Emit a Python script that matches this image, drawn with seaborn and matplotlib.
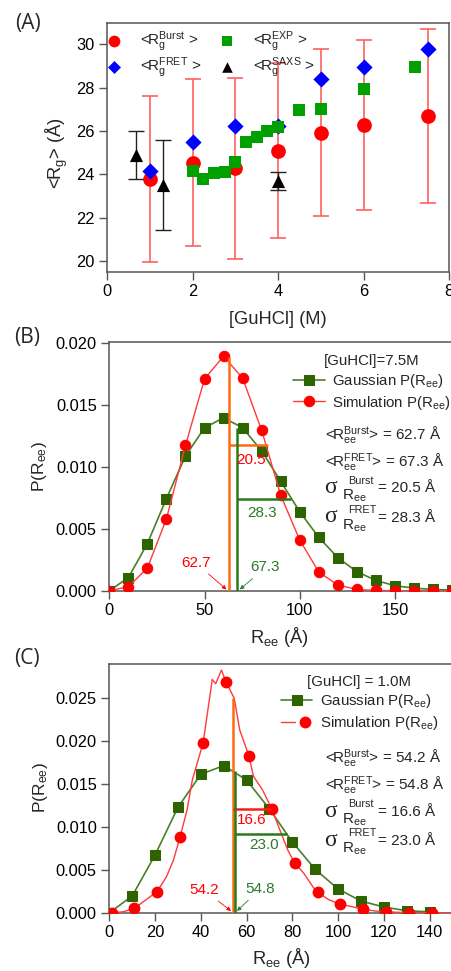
import numpy as np
import pandas as pd
import matplotlib
matplotlib.use("Agg")
import matplotlib.pyplot as plt
import seaborn as sns
from matplotlib.legend_handler import HandlerTuple

# ---------------- Panel A data ----------------
gdn_burst = [1, 2, 3, 4, 5, 6, 7.5]
rg_burst = [23.78, 24.54, 24.28, 25.09, 25.92, 26.28, 26.69]
rg_burst_err = [3.85, 3.87, 4.18, 4.05, 3.87, 3.93, 4.04]
gdn_fret = [1, 2, 3, 4, 5, 6, 7.5]
rg_fret = [24.15, 25.51, 26.23, 26.22, 28.40, 28.94, 29.80]
gdn_exp = [2.0, 2.25, 2.5, 2.75, 3.0, 3.25, 3.5, 3.75, 4.0, 4.5, 5.0, 6.0, 7.2]
rg_exp = [24.15, 23.78, 24.05, 24.12, 24.55, 25.50, 25.74, 26.02, 26.20, 26.97, 27.00, 27.92, 28.95]
gdn_saxs = [0.67, 1.31, 4.0]
rg_saxs = [24.90, 23.50, 23.69]
rg_saxs_err = [1.12, 2.09, 0.40]

# ---------------- Panel B data (7.5 M) ----------------
ree_b_gauss = [0, 10, 20, 30, 40, 50, 60, 70, 80, 90, 100, 110, 120, 130, 140, 150, 160, 170, 180]
p_b_gauss = [0.0, 0.00105, 0.00381, 0.00744, 0.01087, 0.01315, 0.01396, 0.01315, 0.01128,
             0.00883, 0.00636, 0.00430, 0.00266, 0.00153, 0.00083, 0.00040, 0.00021, 0.00010, 0.00005]
ree_b_sim = [0, 10, 20, 30, 40, 50, 60, 70, 80, 90, 100, 110, 120, 130, 140, 150, 160, 170, 180]
p_b_sim = [0.0, 0.00032, 0.00183, 0.00580, 0.01173, 0.01710, 0.01893, 0.01715, 0.01294,
           0.00770, 0.00408, 0.00150, 0.00046, 0.00010, 0.00002, 0.0, 0.0, 0.0, 0.0]
b_mean_burst, b_mean_fret = 62.7, 67.3
b_sd_burst, b_sd_fret = 20.5, 28.3
b_vline_top = [0.0189, 0.0131]
b_hline_y = [0.01173, 0.00744]

# ---------------- Panel C data (1.0 M) ----------------
ree_c_gauss = [0, 10, 20, 30, 40, 50, 60, 70, 80, 90, 100, 110, 120, 130, 140]
p_c_gauss = [0.0, 0.00194, 0.00673, 0.01229, 0.01614, 0.01715, 0.01547, 0.01209, 0.00824,
             0.00505, 0.00276, 0.00136, 0.00066, 0.00023, 0.00010]
ree_c_sim = [1, 11, 21, 31, 41, 51, 61, 71, 81, 91, 101, 111, 121, 131, 141]
p_c_sim = [0.0, 0.00050, 0.00245, 0.00886, 0.01975, 0.02694, 0.01831, 0.01205, 0.00583,
           0.00237, 0.00097, 0.00039, 0.00010, 0.0, 0.0]
ree_c_sim_line = [1, 6, 11, 16, 21, 25, 28, 31, 34, 36.3, 41, 45, 46.5, 49, 51, 54.6, 57, 61,
                  63, 67, 71, 74.6, 78, 81, 85, 89, 91, 96, 101, 106, 111, 116, 121, 131, 141, 155]
p_c_sim_line = [0.0, 0.0001, 0.0005, 0.0015, 0.0025, 0.0042, 0.0061, 0.0089, 0.0120, 0.0155,
                0.0198, 0.0272, 0.0267, 0.0283, 0.0269, 0.0250, 0.0213, 0.0183, 0.0159, 0.0143,
                0.0121, 0.0096, 0.0073, 0.0058, 0.0046, 0.0030, 0.0024, 0.0015, 0.0010, 0.0007,
                0.0004, 0.0002, 0.0001, 0.0, 0.0, 0.0]
c_mean_burst, c_mean_fret = 54.2, 54.8
c_sd_burst, c_sd_fret = 16.6, 23.0
c_vline_top = [0.0250, 0.0165]
c_hline_y = [0.01209, 0.00921]

# ---------------- style ----------------
sns.set_theme(style="ticks")
plt.rcParams["font.family"] = ["Liberation Sans", "DejaVu Sans"]
plt.rcParams["mathtext.fontset"] = "custom"
plt.rcParams["mathtext.rm"] = "Liberation Sans"
plt.rcParams["mathtext.it"] = "Liberation Sans:italic"
plt.rcParams["mathtext.sf"] = "Liberation Serif"
plt.rcParams["mathtext.default"] = "regular"
plt.rcParams["axes.edgecolor"] = "#555555"
plt.rcParams["axes.linewidth"] = 1.1
plt.rcParams["xtick.color"] = "#555555"
plt.rcParams["ytick.color"] = "#555555"
plt.rcParams["xtick.labelcolor"] = "black"
plt.rcParams["ytick.labelcolor"] = "black"

W, H = 451, 971
fig = plt.figure(figsize=(W / 100, H / 100), dpi=100)


def axes_px(left, top, right, bottom):
    return fig.add_axes([left / W, 1 - bottom / H, (right - left) / W, (bottom - top) / H])


def ftext(x, y, s, **kw):
    return fig.text(x / W, 1 - y / H, s, **kw)


TICK = 11.8
RED = "#ff0000"
REDLINE = "#ff3a3a"
DKGREEN = "#2e6400"
GLINE = "#4a7f2a"
ORANGE = "#ff6a13"
TXTGREEN = "#2a7a2a"
INFO_FS = 11.0

# ================= Panel A =================
axA = axes_px(107, 22.7, 449, 271.7)
axA.errorbar(gdn_burst, rg_burst, yerr=rg_burst_err, fmt="none", ecolor="#ff6060",
             elinewidth=1.2, capsize=5.5, capthick=1.2, zorder=1)
axA.errorbar(gdn_saxs, rg_saxs, yerr=rg_saxs_err, fmt="none", ecolor="#222222",
             elinewidth=1.0, capsize=5.5, capthick=1.0, zorder=1)
sns.scatterplot(x=gdn_burst, y=rg_burst, ax=axA, marker="o", s=112, color=RED,
                linewidth=0, zorder=3, label="burst")
sns.scatterplot(x=gdn_fret, y=rg_fret, ax=axA, marker="D", s=68, color="#0000ff",
                linewidth=0, zorder=4, label="fret")
sns.scatterplot(x=gdn_exp, y=rg_exp, ax=axA, marker="s", s=84, color="#00a000",
                linewidth=0, zorder=5, label="exp")
sns.scatterplot(x=gdn_saxs, y=rg_saxs, ax=axA, marker="^", s=90, color="black",
                linewidth=0, zorder=6, label="saxs")
axA.set_xlim(0, 8)
axA.set_ylim(19.5, 31)
axA.set_xticks([0, 2, 4, 6, 8])
axA.set_yticks([20, 22, 24, 26, 28, 30])
axA.tick_params(direction="out", length=6, width=1, labelsize=TICK, pad=3)
axA.set_xlabel("[GuHCl] (M)", fontsize=13.2)
axA.set_ylabel("<R$_g$> (Å)", fontsize=13.2)
axA.xaxis.set_label_coords(0.5, -0.19)
axA.xaxis.label.set_va("center")
axA.yaxis.set_label_coords(-0.146, 0.477)
axA.yaxis.label.set_va("center")
hA, _ = axA.get_legend_handles_labels()
labA = [r"<R$_g^{Burst}$ >", r"<R$_g^{FRET}$ >", r"<R$_g^{EXP}$ >", r"<R$_g^{SAXS}$ >"]
legA = axA.legend(hA, labA, ncol=2, loc="upper left", bbox_to_anchor=(-0.014, 0.992),
                  frameon=False, fontsize=11, markerscale=0.8, handlelength=1.0,
                  handletextpad=1.2, columnspacing=1.12, labelspacing=0.1, borderpad=0.3,
                  borderaxespad=0)
for sp in axA.spines.values():
    sp.set_visible(True)

# ================= Panel B =================
axB = axes_px(109.3, 341.7, 461.7, 590.7)
sns.lineplot(x=ree_b_gauss, y=p_b_gauss, ax=axB, color=GLINE, lw=1.2, marker="s",
             markersize=7, markerfacecolor=DKGREEN, markeredgecolor=DKGREEN, zorder=3,
             label="Gaussian P(R$_{ee}$)")
sns.lineplot(x=ree_b_sim, y=p_b_sim, ax=axB, color=REDLINE, lw=1.0, marker="o",
             markersize=7.5, markerfacecolor=RED, markeredgecolor=RED, zorder=4,
             label="Simulation P(R$_{ee}$)")
axB.vlines(b_mean_burst, 0, b_vline_top[0], color=ORANGE, lw=1.8, zorder=5)
axB.hlines(b_hline_y[0], b_mean_burst, b_mean_burst + b_sd_burst, color=ORANGE, lw=1.8, zorder=5)
axB.vlines(b_mean_fret, 0, b_vline_top[1], color="#2a7a1a", lw=1.8, zorder=5)
axB.hlines(b_hline_y[1], b_mean_fret, b_mean_fret + b_sd_fret, color="#2a7a1a", lw=1.8, zorder=5)
axB.text(74.6, 0.01052, f"{b_sd_burst:.1f}", color=RED, fontsize=11, ha="center", va="center", zorder=6)
axB.text(80.2, 0.0063, f"{b_sd_fret:.1f}", color=TXTGREEN, fontsize=11, ha="center", va="center", zorder=6)
axB.annotate(f"{b_mean_burst:.1f}", xy=(61.5, 0.0001), xytext=(45.3, 0.00225), color=RED,
             fontsize=11, ha="center", va="center",
             arrowprops=dict(arrowstyle="-|>", color=RED, lw=0.6, mutation_scale=6,
                             shrinkA=1, shrinkB=0))
axB.annotate(f"{b_mean_fret:.1f}", xy=(68.5, 0.0001), xytext=(82, 0.00188), color=TXTGREEN,
             fontsize=11, ha="center", va="center",
             arrowprops=dict(arrowstyle="-|>", color=TXTGREEN, lw=0.6, mutation_scale=6,
                             shrinkA=1, shrinkB=0))
axB.set_xlim(0, 185)
axB.set_ylim(0, 0.0201)
axB.set_xticks([0, 50, 100, 150])
axB.set_yticks([0, 0.005, 0.010, 0.015, 0.020])
axB.yaxis.set_major_formatter(matplotlib.ticker.FormatStrFormatter("%.3f"))
axB.tick_params(direction="out", length=6, width=1, labelsize=TICK, pad=3)
axB.set_xlabel("R$_{ee}$ (Å)", fontsize=13.2)
axB.set_ylabel("P(R$_{ee}$)", fontsize=12.5)
axB.xaxis.set_label_coords(0.484, -0.186)
axB.xaxis.label.set_va("center")
axB.yaxis.set_label_coords(-0.197, 0.497)
axB.yaxis.label.set_va("center")
legB = axB.legend(loc="upper left", bbox_to_anchor=(0.513, 0.962), frameon=False,
                  fontsize=10.8, title="[GuHCl]=7.5M", title_fontsize=10.8,
                  handlelength=2.1, handletextpad=0.5, labelspacing=0.25, borderpad=0.2,
                  borderaxespad=0)


def info_block(mean_lines, sigma_sups, sigma_vals, ys):
    # <R_ee> lines
    for s, yy in zip(mean_lines, ys[:2]):
        ftext(325, yy, s, fontsize=INFO_FS, ha="left", va="baseline")
    # sigma lines: large serif sigma, subscript R_ee, superscript label, value
    for sup, val, yy in zip(sigma_sups, sigma_vals, ys[2:]):
        ftext(324, yy + 1, "σ", fontsize=17, ha="left", va="baseline",
              family=["Liberation Serif", "DejaVu Serif"])
        ftext(342.5, yy + 8, "R$_{ee}$", fontsize=INFO_FS, ha="left", va="baseline")
        ftext(348, yy - 8.5, sup, fontsize=7.8, ha="left", va="baseline")
        ftext(378.5, yy, f"= {val:.1f} Å", fontsize=INFO_FS, ha="left", va="baseline")


info_block([r"<R$_{ee}^{Burst}$> = 62.7 Å", r"<R$_{ee}^{FRET}$> = 67.3 Å"],
           ["Burst", "FRET"], [b_sd_burst, b_sd_fret], [440, 467, 492, 521.5])

# ================= Panel C =================
axC = axes_px(109.3, 664, 464, 912.7)
sns.lineplot(x=ree_c_gauss, y=p_c_gauss, ax=axC, color=GLINE, lw=1.2, marker="s",
             markersize=7, markerfacecolor=DKGREEN, markeredgecolor=DKGREEN, zorder=3)
lc = axC.lines[-1]
sns.lineplot(x=ree_c_sim_line, y=p_c_sim_line, ax=axC, color=REDLINE, lw=1.0, zorder=4)
lr = axC.lines[-1]
axC.plot(ree_c_sim, p_c_sim, ls="none", marker="o", markersize=7.5, color=RED, zorder=4)
mr = axC.lines[-1]
axC.vlines(c_mean_burst, 0, c_vline_top[0], color=ORANGE, lw=1.8, zorder=5)
axC.hlines(c_hline_y[0], c_mean_burst, c_mean_burst + c_sd_burst, color="#ff1a1a", lw=1.8, zorder=5)
axC.vlines(c_mean_fret, 0, c_vline_top[1], color="#2a7a1a", lw=1.8, zorder=5)
axC.hlines(c_hline_y[1], c_mean_fret, c_mean_fret + c_sd_fret, color="#2a7a1a", lw=1.8, zorder=5)
axC.text(62.1, 0.0108, f"{c_sd_burst:.1f}", color=RED, fontsize=11, ha="center", va="center", zorder=6)
axC.text(67.8, 0.00793, f"{c_sd_fret:.1f}", color=TXTGREEN, fontsize=11, ha="center", va="center", zorder=6)
axC.annotate(f"{c_mean_burst:.1f}", xy=(53.2, 0.0002), xytext=(41.4, 0.00264), color=RED,
             fontsize=11, ha="center", va="center",
             arrowprops=dict(arrowstyle="-|>", color=RED, lw=0.6, mutation_scale=6,
                             shrinkA=1, shrinkB=0))
axC.annotate(f"{c_mean_fret:.1f}", xy=(55.8, 0.0002), xytext=(65.9, 0.00276), color=TXTGREEN,
             fontsize=11, ha="center", va="center",
             arrowprops=dict(arrowstyle="-|>", color=TXTGREEN, lw=0.6, mutation_scale=6,
                             shrinkA=1, shrinkB=0))
axC.set_xlim(0, 155)
axC.set_ylim(0, 0.029)
axC.set_xticks([0, 20, 40, 60, 80, 100, 120, 140])
axC.set_yticks([0, 0.005, 0.010, 0.015, 0.020, 0.025])
axC.yaxis.set_major_formatter(matplotlib.ticker.FormatStrFormatter("%.3f"))
axC.tick_params(direction="out", length=6, width=1, labelsize=TICK, pad=3)
axC.set_xlabel("R$_{ee}$ (Å)", fontsize=13.2)
axC.set_ylabel("P(R$_{ee}$)", fontsize=12.5)
axC.xaxis.set_label_coords(0.484, -0.182)
axC.xaxis.label.set_va("center")
axC.yaxis.set_label_coords(-0.195, 0.505)
axC.yaxis.label.set_va("center")
if axC.get_legend() is not None:
    axC.get_legend().remove()
legC = axC.legend([lc, (lr, mr)], ["Gaussian P(R$_{ee}$)", "Simulation P(R$_{ee}$)"],
                  handler_map={tuple: HandlerTuple(ndivide=None)},
                  loc="upper left", bbox_to_anchor=(0.475, 0.969), frameon=False,
                  fontsize=10.8, title="[GuHCl] = 1.0M", title_fontsize=10.8,
                  handlelength=2.1, handletextpad=0.5, labelspacing=0.25, borderpad=0.2,
                  borderaxespad=0)
info_block([r"<R$_{ee}^{Burst}$> = 54.2 Å", r"<R$_{ee}^{FRET}$> = 54.8 Å"],
           ["Burst", "FRET"], [c_sd_burst, c_sd_fret], [763, 790, 815.7, 845])

# panel labels
for lab, (xx, yy) in zip(["(A)", "(B)", "(C)"], [(28, 24), (27, 338), (27, 658)]):
    ftext(xx, yy, lab, fontsize=15, ha="center", va="center", family=["Open Sans", "DejaVu Sans"])

fig.savefig("out.png", dpi=100)
